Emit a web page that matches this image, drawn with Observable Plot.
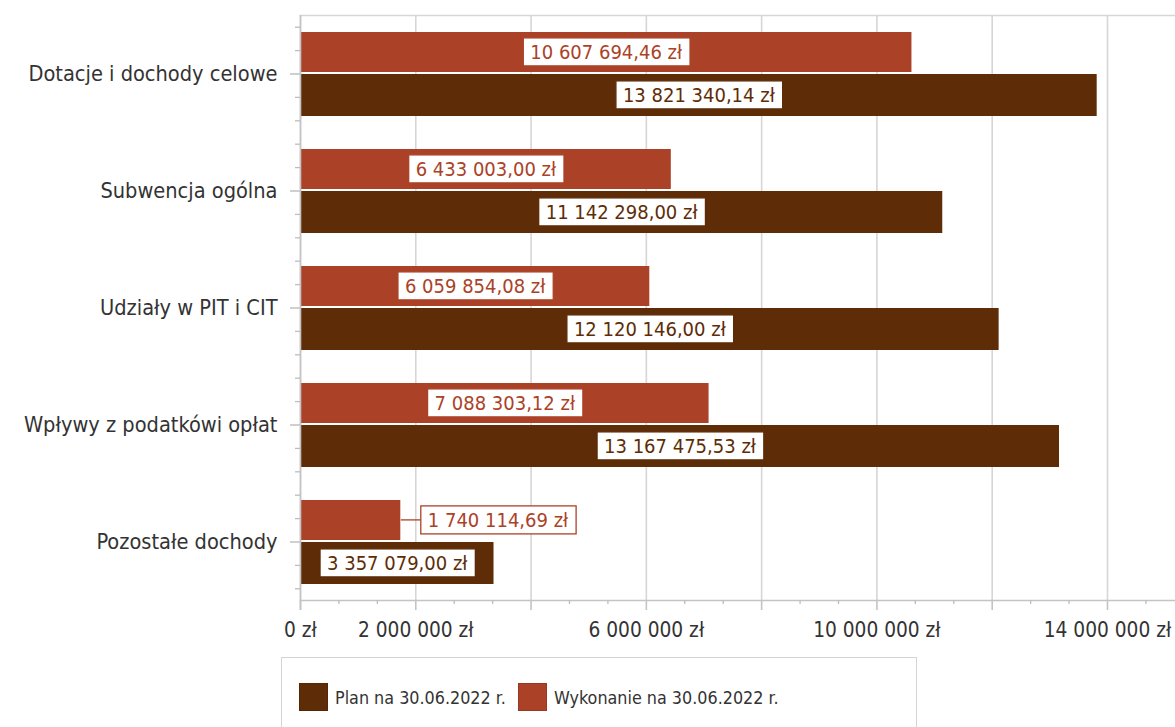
<!DOCTYPE html>
<html><head><meta charset="utf-8">
<script src="https://cdn.jsdelivr.net/npm/d3@7"></script>
<script src="https://cdn.jsdelivr.net/npm/@observablehq/plot@0.6"></script>
<style>
html,body{margin:0;padding:0;background:#fff;}
body{width:1175px;height:727px;overflow:hidden;position:relative;font-family:"DejaVu Sans Condensed","DejaVu Sans",sans-serif;}
#chart{position:absolute;left:0;top:0;}
#legend{position:absolute;left:281px;top:657px;width:636px;height:80px;border:1px solid #d4d4d4;box-sizing:border-box;}
.item{position:absolute;top:25px;display:flex;align-items:center;font-size:17.8px;color:#333;}
.sw{width:29px;height:28px;box-sizing:border-box;margin-right:7px;}
</style></head><body>
<div id="chart"></div>
<div id="legend"></div>
<script>
// ---- data ----
const categories = ["Dotacje i dochody celowe", "Subwencja ogólna", "Udziały w PIT i CIT", "Wpływy z podatkówi opłat", "Pozostałe dochody"];
const planValues = [13821340.14, 11142298.00, 12120146.00, 13167475.53, 3357079.00];
const wykonanieValues = [10607694.46, 6433003.00, 6059854.08, 7088303.12, 1740114.69];
const seriesNames = ["Plan na 30.06.2022 r.", "Wykonanie na 30.06.2022 r."];
const majorTicks = [0, 2000000, 4000000, 6000000, 8000000, 10000000, 12000000, 14000000];
const labeledTicks = [0, 2000000, 6000000, 10000000, 14000000];
const xMax = 15180000;

// ---- styles ----
const C_PLAN = "#5e2c07", C_WYK = "#ab4227";
const FONT = '"DejaVu Sans Condensed","DejaVu Sans",sans-serif';
const W = 1175, H = 650, mL = 300, mR = 0, mT = 15, mB = 50;
const step = (H - mT - mB) / categories.length;
const pxPer = (W - mL - mR) / xMax;

const loc = d3.formatLocale({decimal: ",", thousands: "\u00a0", grouping: [3], currency: ["", " zł"]});
const fmt2 = v => loc.format(",.2f")(v).replace(/\u00a0/g, " ") + " zł";
const fmt0 = v => loc.format(",.0f")(v).replace(/\u00a0/g, " ") + " zł";

const rows = categories.map((c, i) => ({category: c, plan: planValues[i], wyk: wykonanieValues[i]}));
const fits = v => v * pxPer > 185;
const minorTicks = d3.range(0, 23).filter(k => k % 3 !== 0).map(k => k * 2000000 / 3).filter(v => v <= xMax);

const minorYMarks = [-2, -1, 1, 2].map(o => Plot.ruleY(categories, {y: d => d, x1: 0, x2: 0, insetLeft: -5, dy: o * step / 5, stroke: "#bdbdbd", strokeWidth: 1.3}));

const plot = Plot.plot({
  width: W, height: H, marginLeft: mL, marginRight: mR, marginTop: mT, marginBottom: mB,
  style: {fontFamily: FONT, fontSize: "20px", color: "#333", background: "white", overflow: "visible"},
  x: {domain: [0, xMax]},
  y: {domain: categories, padding: 0},
  marks: [
    Plot.gridX(majorTicks, {stroke: "#d6d6d6", strokeOpacity: 1, strokeWidth: 1.6}),
    Plot.frame({anchor: "top", stroke: "#d6d6d6", strokeWidth: 1.6}),
    Plot.barX(rows, {x: "wyk", y: "category", fill: C_WYK, insetTop: 17, insetBottom: 60, insetLeft: 1}),
    Plot.barX(rows, {x: "plan", y: "category", fill: C_PLAN, insetTop: 59, insetBottom: 16, insetLeft: 1}),
    Plot.ruleX([0], {stroke: "#c4c4c4", strokeWidth: 1.6, insetBottom: -10}),
    Plot.frame({anchor: "bottom", stroke: "#c4c4c4", strokeWidth: 1.6}),
    ...minorYMarks,
    Plot.axisX(minorTicks, {tickSize: 4, tickFormat: () => "", stroke: "#bdbdbd", strokeWidth: 1.3}),
    Plot.axisX(majorTicks, {tickSize: 10, tickPadding: 12, stroke: "#c4c4c4", strokeWidth: 1.6, fill: "#333", fontSize: 20.7,
      tickFormat: d => labeledTicks.includes(d) ? fmt0(d) : "", label: null}),
    Plot.axisY({tickSize: 10, tickPadding: 13, stroke: "#c4c4c4", strokeWidth: 1.6, fill: "#333", fontSize: 21.6, label: null}),
    Plot.text(rows.filter(d => fits(d.wyk)), {x: d => d.wyk / 2, y: "category", text: d => fmt2(d.wyk), dy: -21.5, fill: C_WYK, fontSize: 20, ariaDescription: "lbl-wyk"}),
    Plot.text(rows.filter(d => !fits(d.wyk)), {x: "wyk", y: "category", text: d => fmt2(d.wyk), dy: -21.5, dx: 27, textAnchor: "start", fill: C_WYK, fontSize: 20, ariaDescription: "lbl-wyk-out"}),
    Plot.text(rows.filter(d => fits(d.plan)), {x: d => d.plan / 2, y: "category", text: d => fmt2(d.plan), dy: 21.5, fill: C_PLAN, fontSize: 20, ariaDescription: "lbl-plan"}),
    Plot.text(rows.filter(d => !fits(d.plan)), {x: "plan", y: "category", text: d => fmt2(d.plan), dy: 21.5, dx: 27, textAnchor: "start", fill: C_PLAN, fontSize: 20, ariaDescription: "lbl-plan-out"})
  ]
});
document.getElementById("chart").append(plot);

const NS = "http://www.w3.org/2000/svg";
function boxLabels(label, color, outside) {
  plot.querySelectorAll(`g[aria-description="${label}"] text`).forEach(t => {
    const b = t.getBBox();
    const padX = 7, hBox = 28;
    const tr = t.getAttribute("transform");
    const r = document.createElementNS(NS, "rect");
    r.setAttribute("x", b.x - padX);
    r.setAttribute("y", b.y + b.height / 2 - hBox / 2);
    r.setAttribute("width", b.width + 2 * padX);
    r.setAttribute("height", hBox);
    r.setAttribute("fill", "white");
    r.setAttribute("stroke", color);
    r.setAttribute("stroke-width", 1.3);
    if (tr) r.setAttribute("transform", tr);
    t.parentNode.insertBefore(r, t);
    if (outside) {
      const l = document.createElementNS(NS, "line");
      l.setAttribute("x1", b.x - padX - 20);
      l.setAttribute("x2", b.x - padX);
      l.setAttribute("y1", b.y + b.height / 2);
      l.setAttribute("y2", b.y + b.height / 2);
      l.setAttribute("stroke", color);
      l.setAttribute("stroke-width", 1.3);
      if (tr) l.setAttribute("transform", tr);
      t.parentNode.insertBefore(l, r);
    }
  });
}
boxLabels("lbl-wyk", C_WYK, false);
boxLabels("lbl-wyk-out", C_WYK, true);
boxLabels("lbl-plan", C_PLAN, false);
boxLabels("lbl-plan-out", C_PLAN, true);

// legend
const legend = document.getElementById("legend");
[[seriesNames[0], C_PLAN, 17], [seriesNames[1], C_WYK, 236]].forEach(([name, col, left]) => {
  const it = document.createElement("div");
  it.className = "item";
  it.style.left = left + "px";
  const sw = document.createElement("div");
  sw.className = "sw";
  sw.style.background = col;
  sw.style.border = "1px solid " + d3.color(col).darker(0.4);
  const tx = document.createElement("span");
  tx.textContent = name;
  it.append(sw, tx);
  legend.append(it);
});
</script>
</body></html>
